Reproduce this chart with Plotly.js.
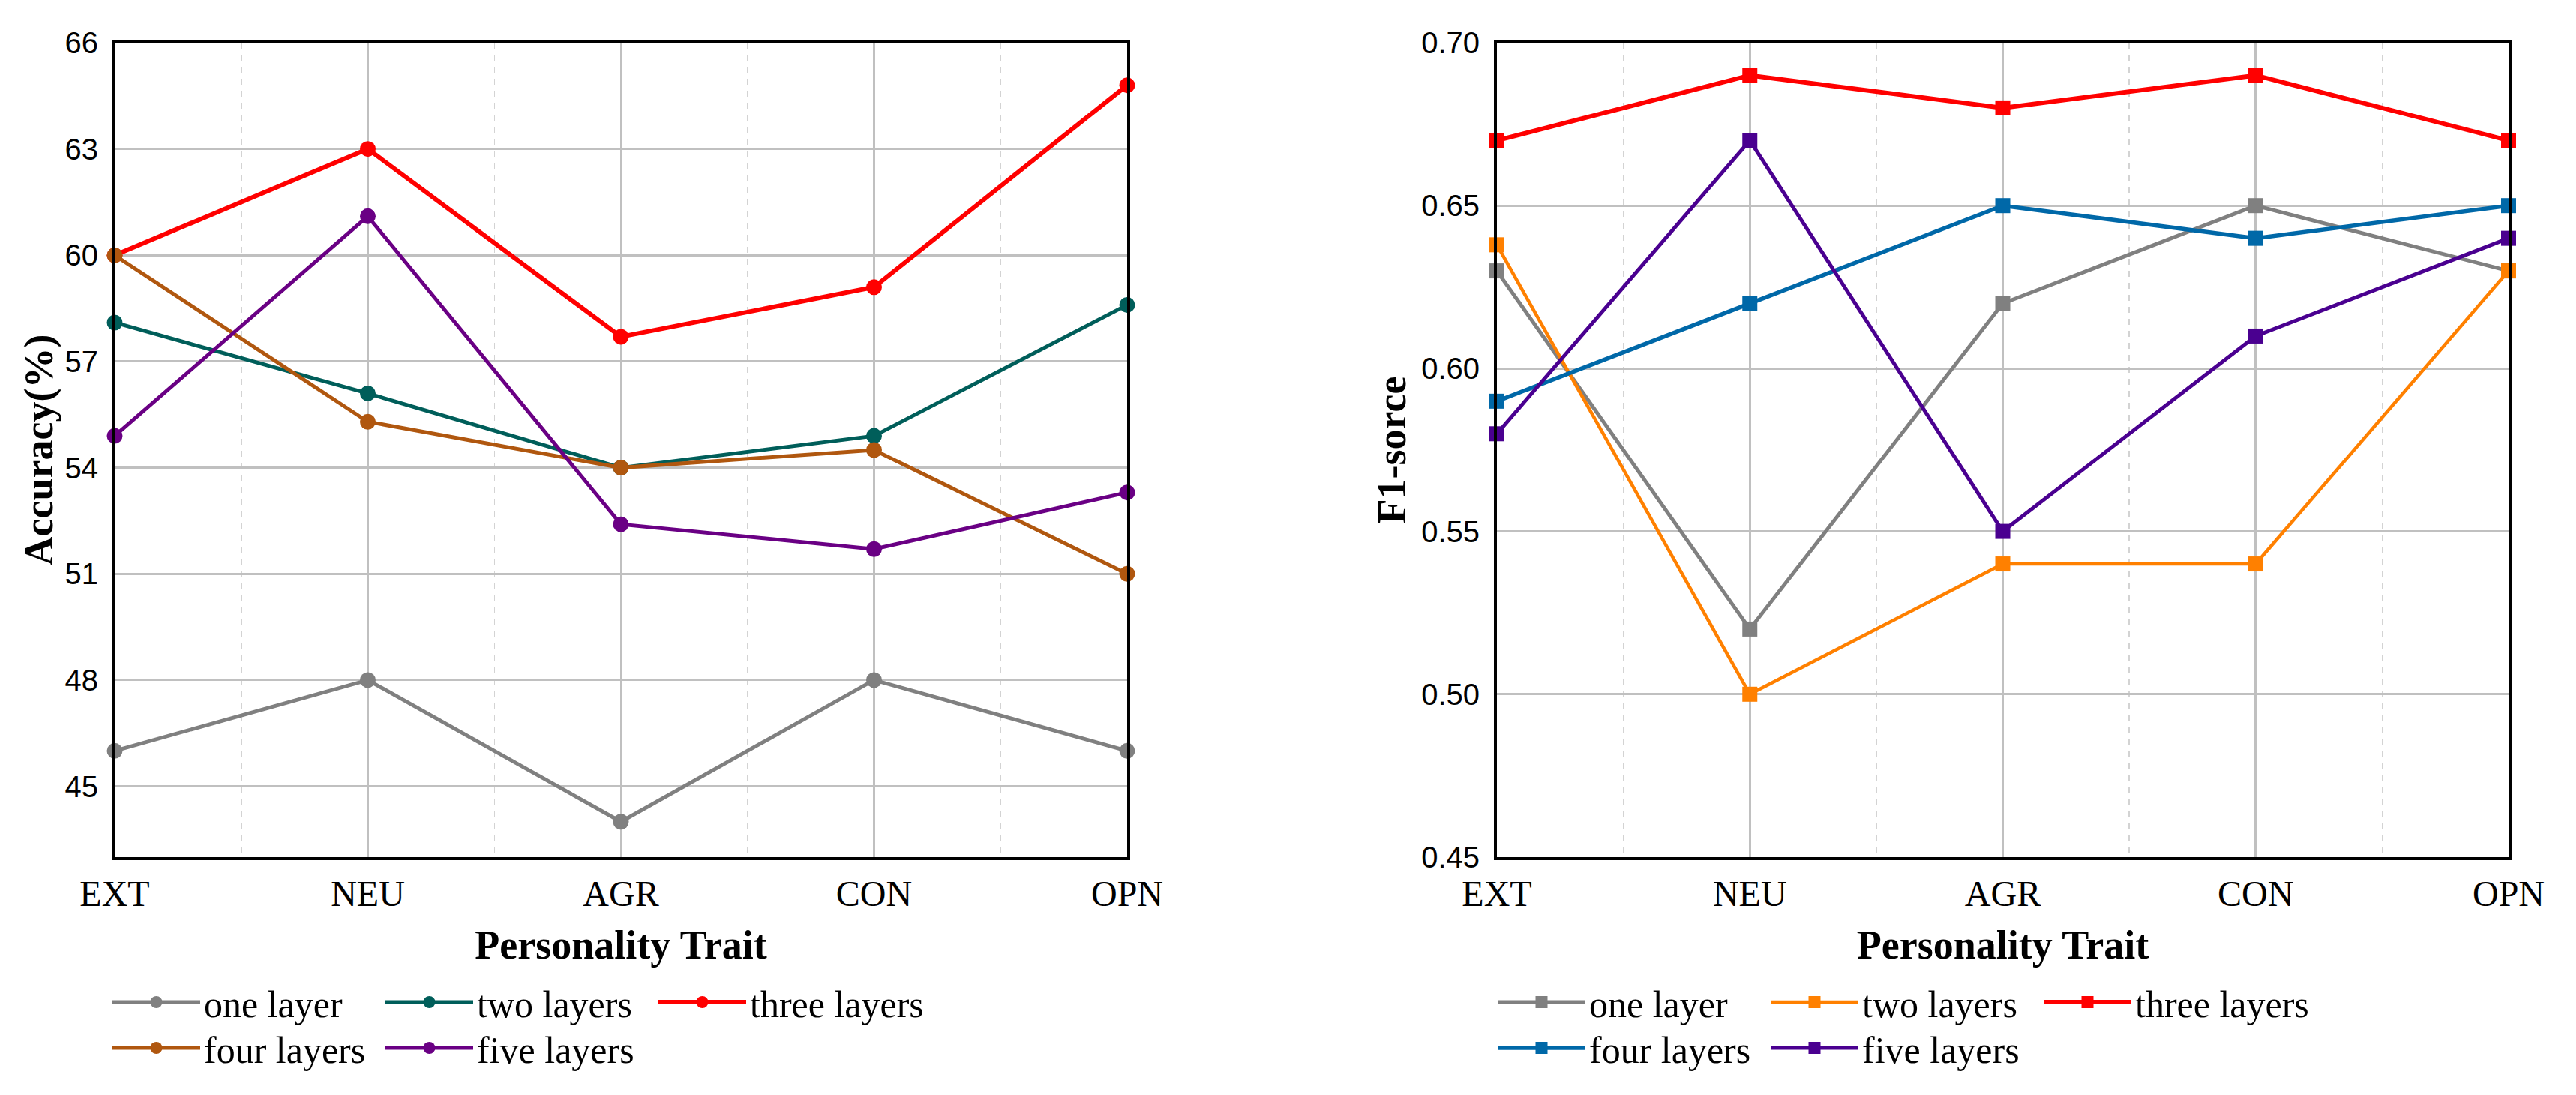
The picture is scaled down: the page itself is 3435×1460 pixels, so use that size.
<!DOCTYPE html>
<html><head><meta charset="utf-8">
<script src="https://cdn.plot.ly/plotly-3.0.1.min.js"></script>
<style>html,body{margin:0;padding:0;background:#fff}</style>
</head><body><div id="chart" style="width:3435px;height:1460px"></div>
<script>
// ---- data ----
const traits = ['EXT', 'NEU', 'AGR', 'CON', 'OPN'];
const seriesNames = ['one layer', 'two layers', 'three layers', 'four layers', 'five layers'];
const accOne   = [46.0, 48.0, 44.0, 48.0, 46.0];
const accTwo   = [58.1, 56.1, 54.0, 54.9, 58.6];
const accThree = [60.0, 63.0, 57.7, 59.1, 64.8];
const accFour  = [60.0, 55.3, 54.0, 54.5, 51.0];
const accFive  = [54.9, 61.1, 52.4, 51.7, 53.3];
const f1One   = [0.63, 0.52, 0.62, 0.65, 0.63];
const f1Two   = [0.638, 0.50, 0.54, 0.54, 0.63];
const f1Three = [0.67, 0.69, 0.68, 0.69, 0.67];
const f1Four  = [0.59, 0.62, 0.65, 0.64, 0.65];
const f1Five  = [0.58, 0.67, 0.55, 0.61, 0.64];
const accTicks = [45, 48, 51, 54, 57, 60, 63, 66];
const f1Ticks = [0.45, 0.50, 0.55, 0.60, 0.65, 0.70];

// ---- styles ----
const accColors = ['#808080', '#005E5A', '#FF0000', '#B0570F', '#6A0084'];
const f1Colors  = ['#808080', '#FF8000', '#FF0000', '#0068A8', '#4A0090'];
const accWidths = [5, 5, 6, 5, 5];
const f1Widths  = [5, 4.5, 6, 5.5, 5];

const xpos = traits.map((t, i) => i);
const accData = [accOne, accTwo, accThree, accFour, accFive];
const f1Data = [f1One, f1Two, f1Three, f1Four, f1Five];

const traces = [];
accData.forEach((ys, i) => {
  traces.push({
    type: 'scatter', mode: 'lines+markers', x: xpos, y: ys, name: seriesNames[i],
    xaxis: 'x', yaxis: 'y', legend: i < 3 ? 'legend' : 'legend2',
    line: {color: accColors[i], width: accWidths[i]},
    marker: {symbol: 'circle', size: 21, color: accColors[i]},
    cliponaxis: false
  });
});
f1Data.forEach((ys, i) => {
  traces.push({
    type: 'scatter', mode: 'lines+markers', x: xpos, y: ys, name: seriesNames[i],
    xaxis: 'x2', yaxis: 'y2', legend: i < 3 ? 'legend3' : 'legend4',
    line: {color: f1Colors[i], width: f1Widths[i]},
    marker: {symbol: 'square', size: 20, color: f1Colors[i]},
    cliponaxis: false
  });
});

const W = 3435, H = 1460;
const M = {l: 153, r: 90, t: 57, b: 317};
const gw = W - M.l - M.r, gh = H - M.t - M.b;
const px = X => (X - M.l) / gw;
const py = Y => (H - M.b - Y) / gh;

function xAxis(dom, anchor) {
  return {
    domain: dom, anchor: anchor, range: [0, traits.length - 1],
    tickmode: 'array', tickvals: xpos, ticktext: traits,
    tickfont: {family: 'Liberation Serif', size: 48, color: '#000'},
    ticks: '', ticklabelstandoff: 3,
    showgrid: true, gridcolor: '#C0C0C0', gridwidth: 3,
    minor: {dtick: 0.5, tick0: 0, showgrid: true, gridcolor: '#D3D3D3', gridwidth: 1.5, griddash: '8px,8px', ticks: ''},
    zeroline: false, showline: true, mirror: true, linecolor: '#000', linewidth: 4,
    title: {text: 'Personality Trait', font: {family: 'Liberation Serif', size: 54, color: '#000', weight: 'bold'}, standoff: 25}
  };
}
function yAxis(range, ticks, fmt, anchor, title, tstand, lstand) {
  return {
    domain: [0, 1], anchor: anchor, range: range,
    tickmode: 'array', tickvals: ticks, ticktext: ticks.map(v => fmt(v)),
    tickfont: {family: 'Liberation Sans', size: 40, color: '#000'},
    ticks: '', ticklabelstandoff: lstand,
    showgrid: true, gridcolor: '#C0C0C0', gridwidth: 3,
    zeroline: false, showline: true, mirror: true, linecolor: '#000', linewidth: 4,
    title: {text: title, font: {family: 'Liberation Serif', size: 54, color: '#000', weight: 'bold'}, standoff: tstand}
  };
}

function legendAt(X, Y) {
  return {
    orientation: 'h', x: px(X), y: py(Y), xanchor: 'left', yanchor: 'middle',
    font: {family: 'Liberation Serif', size: 50, color: '#000'},
    itemwidth: 117, entrywidth: 232, entrywidthmode: 'pixels',
    bgcolor: 'rgba(0,0,0,0)', borderwidth: 0, traceorder: 'normal'
  };
}

const layout = {
  width: W, height: H,
  margin: {l: M.l, r: M.r, t: M.t, b: M.b, autoexpand: false},
  paper_bgcolor: '#fff', plot_bgcolor: '#fff',
  font: {family: 'Liberation Serif', color: '#000'},
  showlegend: true,
  xaxis: xAxis([0, px(1503)], 'y'),
  yaxis: yAxis([43, 66], accTicks, v => String(v), 'x', 'Accuracy(%)', 0, 10),
  xaxis2: xAxis([px(1996), 1], 'y2'),
  yaxis2: yAxis([0.45, 0.70], f1Ticks, v => v.toFixed(2), 'x2', 'F1-sorce', 4, 11),
  legend: legendAt(145, 1336),
  legend2: legendAt(145, 1397),
  legend3: legendAt(1992, 1336),
  legend4: legendAt(1992, 1397)
};

Plotly.newPlot('chart', traces, layout, {staticPlot: true, displayModeBar: false});
</script></body></html>
